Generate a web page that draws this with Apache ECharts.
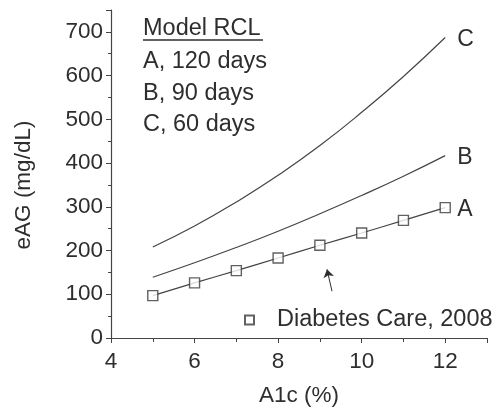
<!DOCTYPE html>
<html>
<head>
<meta charset="utf-8">
<script src="https://cdn.jsdelivr.net/npm/echarts@6/dist/echarts.min.js"></script>
<style>
  html, body { margin: 0; padding: 0; background: #fff; }
  #chart { width: 498px; height: 407px; }
</style>
</head>
<body>
<div id="chart"></div>
<script>
// A1c (%) values where each curve is evaluated
const a1c = [5, 6, 7, 8, 9, 10, 11, 12];

// Model RCL curves: estimated average glucose (mg/dL)
const modelA = [97, 126, 154, 183, 212, 240, 269, 298];   // 120 days
const modelB = [139, 172, 207, 244, 284, 326, 370, 417];  // 90 days
const modelC = [208, 256, 311, 372, 440, 516, 598, 687];  // 60 days

// Diabetes Care, 2008 (ADAG) reference points
const adagA1c = [5, 6, 7, 8, 9, 10, 11, 12];
const adagEAG = [97, 126, 154, 183, 212, 240, 269, 298];

// Pointer from the legend towards the reference points
const arrowFrom = [9.29, 107];
const arrowTo = [9.17, 157];

const legendLines = ['A, 120 days', 'B, 90 days', 'C, 60 days'];

const FONT = '"Liberation Sans", Arial, sans-serif';
const INK = '#2e2e2e';
const LINE = '#444';

const pairs = (xs, ys) => xs.map((x, i) => [x, ys[i]]);

const lineSeries = (name, ys) => ({
  name: name,
  type: 'line',
  data: pairs(a1c, ys),
  smooth: true,
  showSymbol: false,
  lineStyle: { color: LINE, width: 1.2 },
  endLabel: {
    show: true,
    formatter: '{a}',
    fontFamily: FONT,
    fontSize: 23,
    color: INK,
    distance: 12,
    offset: [0, 2]
  },
  silent: true
});

const chart = echarts.init(document.getElementById('chart'));
chart.setOption({
  animation: false,
  backgroundColor: '#fff',
  grid: { left: 111, right: 11, top: 10, bottom: 69, containLabel: false, outerBoundsMode: 'none' },
  xAxis: {
    type: 'value',
    min: 4, max: 13, interval: 2,
    name: 'A1c (%)',
    nameLocation: 'middle',
    nameGap: 46,
    nameTextStyle: { fontFamily: FONT, fontSize: 22.5, color: INK },
    axisLine: { lineStyle: { color: LINE, width: 1.2 } },
    axisTick: { show: true, length: 5, lineStyle: { color: LINE } },
    minorTick: { show: true, splitNumber: 2, length: 4, lineStyle: { color: LINE } },
    axisLabel: { fontFamily: FONT, fontSize: 22.5, color: INK, margin: 12, showMaxLabel: false },
    splitLine: { show: false }
  },
  yAxis: {
    type: 'value',
    min: 0, max: 750, interval: 100,
    name: 'eAG (mg/dL)',
    nameLocation: 'middle',
    nameGap: 76,
    nameRotate: 90,
    nameTextStyle: { fontFamily: FONT, fontSize: 22.5, color: INK, padding: [0, 0, 0, -22] },
    axisLine: { show: true, lineStyle: { color: LINE, width: 1.2 } },
    axisTick: { show: true, length: 5, lineStyle: { color: LINE } },
    minorTick: { show: true, splitNumber: 2, length: 3, lineStyle: { color: LINE } },
    axisLabel: { fontFamily: FONT, fontSize: 22.5, color: INK, margin: 8, showMaxLabel: false },
    splitLine: { show: false }
  },
  legend: {
    data: ['Diabetes Care, 2008'],
    left: 239,
    top: 303,
    itemWidth: 9,
    itemHeight: 9,
    textStyle: { fontFamily: FONT, fontSize: 23.5, color: INK, padding: [0, 0, 0, 18] }
  },
  graphic: [
    {
      type: 'group',
      silent: true,
      children: [
        {
          type: 'text',
          style: { text: 'Model RCL', x: 143, y: 29, font: '23.5px ' + FONT, fill: INK, verticalAlign: 'middle' }
        },
        {
          type: 'line',
          shape: { x1: 143, y1: 40, x2: 263, y2: 40 },
          style: { stroke: INK, lineWidth: 1.5 }
        }
      ].concat(legendLines.map((t, i) => ({
        type: 'text',
        style: { text: t, x: 143, y: 62 + i * 31.5, font: '23.5px ' + FONT, fill: INK, verticalAlign: 'middle' }
      })))
    }
  ],
  series: [
    lineSeries('C', modelC),
    lineSeries('B', modelB),
    lineSeries('A', modelA),
    {
      name: 'Diabetes Care, 2008',
      type: 'scatter',
      data: pairs(adagA1c, adagEAG),
      symbol: 'rect',
      symbolSize: 10,
      itemStyle: { color: '#fff', borderColor: '#3a3a3a', borderWidth: 1.4 },
      z: 5,
      markLine: {
        silent: true,
        symbol: ['none', 'arrow'],
        symbolSize: 8,
        label: { show: false },
        lineStyle: { color: INK, width: 1, type: 'solid' },
        data: [[{ coord: arrowFrom }, { coord: arrowTo }]]
      }
    }
  ]
});
</script>
</body>
</html>
